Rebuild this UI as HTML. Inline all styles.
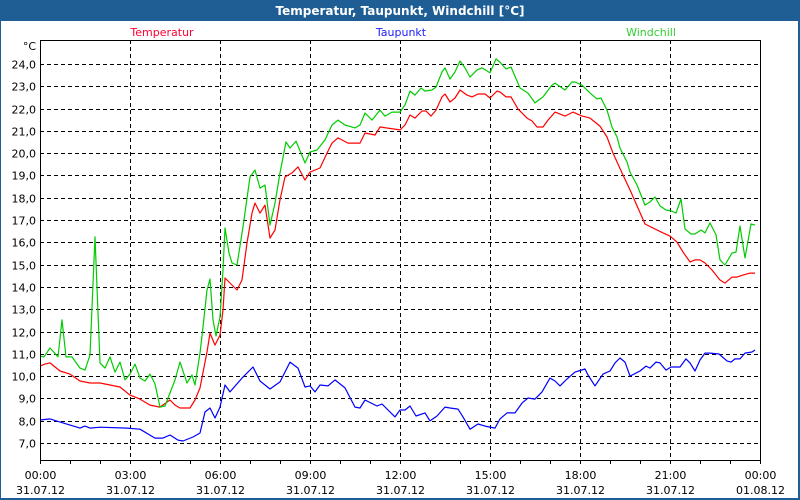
<!DOCTYPE html>
<html><head><meta charset="utf-8">
<style>
html,body{margin:0;padding:0;background:#fff;}
body{width:800px;height:500px;overflow:hidden;font-family:"DejaVu Sans","Liberation Sans",sans-serif;}
</style></head>
<body>
<svg id="chart" width="800" height="500" viewBox="0 0 800 500" xmlns="http://www.w3.org/2000/svg" style="display:block">
<rect x="0" y="0" width="800" height="500" fill="#1e5e95"/>
<rect x="1" y="21" width="797" height="477" fill="#fff"/>
<text x="400" y="15" text-anchor="middle" fill="#fff" font-size="12" font-weight="bold">Temperatur, Taupunkt, Windchill [°C]</text>
<text x="162" y="36" text-anchor="middle" fill="#ff0033" font-size="11">Temperatur</text>
<text x="401" y="36" text-anchor="middle" fill="#2020ff" font-size="11">Taupunkt</text>
<text x="651" y="36" text-anchor="middle" fill="#33cc33" font-size="11">Windchill</text>
<text x="36" y="50" text-anchor="end" fill="#000" font-size="11">°C</text>
<g id="grid"></g>
<g id="axes"></g>
<g id="series"></g>
<rect x="40.5" y="40.5" width="720" height="420" fill="none" stroke="#000" stroke-width="1"/>
</svg>
<script>
const yTicks = [7,8,9,10,11,12,13,14,15,16,17,18,19,20,21,22,23,24];
const xTickHours = [0,3,6,9,12,15,18,21,24];
const xTimeLabels = ["00:00","03:00","06:00","09:00","12:00","15:00","18:00","21:00","00:00"];
const xDateLabels = ["31.07.12","31.07.12","31.07.12","31.07.12","31.07.12","31.07.12","31.07.12","31.07.12","01.08.12"];

const tempMin = [0,10,20,40,60,80,100,120,140,160,180,200,220,240,260,270,280,300,310,320,334,340,350,360,366,370,394,404,414,424,430,440,450,460,470,480,490,504,516,530,540,560,574,584,596,616,640,650,670,680,720,730,740,750,764,772,782,792,804,810,820,830,840,854,864,876,890,900,914,920,932,942,956,974,984,994,1006,1016,1030,1050,1066,1084,1100,1120,1134,1146,1164,1180,1196,1210,1226,1246,1260,1274,1286,1300,1310,1320,1330,1344,1360,1370,1384,1394,1406,1420,1430];
const tempVal = [10.45,10.54,10.59,10.23,10.09,9.78,9.69,9.69,9.6,9.51,9.15,8.97,8.7,8.61,8.93,8.7,8.57,8.57,8.93,9.47,11.08,11.93,11.39,11.84,12.96,14.4,13.86,14.31,15.97,17.31,17.76,17.31,17.67,16.19,16.55,17.9,18.93,19.11,19.38,18.79,19.15,19.33,20.0,20.45,20.68,20.45,20.45,20.9,20.81,21.17,21.04,21.26,21.71,21.57,21.89,21.89,21.66,21.93,22.52,22.65,22.29,22.47,22.83,22.6,22.52,22.65,22.65,22.47,22.78,22.74,22.52,22.52,21.98,21.57,21.44,21.17,21.17,21.48,21.84,21.66,21.84,21.66,21.57,21.21,20.72,20.0,19.11,18.35,17.54,16.82,16.64,16.42,16.28,16.01,15.56,15.12,15.21,15.21,15.07,14.76,14.31,14.17,14.44,14.44,14.53,14.62,14.62];

const dewMin = [0,20,46,80,90,100,120,174,200,230,246,260,276,286,306,320,330,340,350,360,370,380,404,426,440,460,480,500,516,530,540,550,560,576,590,610,630,640,650,674,684,710,720,730,740,752,770,780,794,810,820,836,846,860,876,890,910,920,934,950,964,976,990,1004,1020,1030,1040,1054,1070,1090,1096,1110,1126,1140,1150,1160,1170,1180,1200,1212,1220,1232,1240,1252,1262,1280,1292,1300,1310,1320,1330,1340,1358,1374,1382,1390,1400,1410,1424,1430];
const dewVal = [8.03,8.08,7.9,7.67,7.76,7.67,7.71,7.67,7.62,7.22,7.22,7.36,7.13,7.09,7.27,7.45,8.39,8.57,8.12,8.61,9.6,9.29,9.91,10.41,9.78,9.42,9.74,10.63,10.36,9.51,9.56,9.29,9.6,9.56,9.83,9.47,8.61,8.57,8.93,8.66,8.75,8.17,8.48,8.48,8.66,8.21,8.35,7.99,8.21,8.61,8.57,8.52,8.17,7.62,7.85,7.76,7.67,8.08,8.35,8.35,8.79,9.02,8.97,9.29,9.91,9.78,9.56,9.87,10.18,10.32,10.05,9.56,10.09,10.23,10.59,10.81,10.63,10.0,10.23,10.45,10.36,10.63,10.59,10.27,10.41,10.41,10.77,10.59,10.23,10.72,11.03,11.03,10.99,10.68,10.63,10.77,10.77,11.03,11.08,11.17];

const chillMin = [0,8,20,36,44,52,64,80,90,100,110,120,130,140,150,160,170,180,190,200,210,220,230,240,250,270,280,294,304,310,320,326,334,340,346,352,360,366,370,378,384,394,406,420,430,440,450,460,470,480,492,500,512,530,540,554,570,584,596,610,630,640,650,664,680,690,704,720,730,740,750,762,770,784,792,804,810,820,830,840,850,860,874,884,900,912,920,932,942,960,976,990,1006,1024,1030,1050,1064,1070,1084,1100,1114,1122,1134,1144,1154,1160,1174,1180,1194,1210,1220,1230,1240,1252,1264,1272,1282,1290,1302,1310,1322,1330,1340,1352,1360,1370,1384,1392,1400,1410,1422,1430];
const chillVal = [10.9,10.86,11.26,10.86,12.52,10.86,10.86,10.36,10.27,10.95,16.24,10.59,10.36,10.86,10.18,10.63,9.83,10.09,10.54,9.91,9.78,10.09,9.65,8.61,8.66,9.83,10.63,9.69,10.05,9.6,11.03,12.2,13.86,14.35,12.52,11.8,12.65,14.76,16.64,15.52,15.07,14.98,16.69,18.93,19.24,18.43,18.57,16.77,17.76,19.11,20.5,20.23,20.54,19.56,20.05,20.14,20.59,21.26,21.48,21.26,21.13,21.26,21.8,21.48,21.93,21.66,21.84,21.84,22.16,22.78,22.6,22.92,22.78,22.83,22.96,23.64,23.82,23.32,23.64,24.13,23.82,23.41,23.73,23.82,23.6,24.22,24.08,23.77,23.86,22.92,22.69,22.25,22.52,23.05,23.14,22.83,23.19,23.19,23.05,22.69,22.43,22.47,21.93,21.17,20.72,20.23,19.6,19.15,18.57,17.67,17.81,18.03,17.63,17.45,17.4,17.31,17.94,16.6,16.37,16.37,16.55,16.42,16.87,16.33,15.21,14.98,15.52,15.56,16.73,15.3,16.82,16.77];

const NS = "http://www.w3.org/2000/svg";
const X0 = 40, X1 = 760, YTOP = 40, YBOT = 460;
const Y7 = 443, PXPERDEG = 22.3;
function xScale(minutes){ return X0 + (minutes/1440)*(X1-X0); }
function yScale(v){ return Y7 - (v-7)*PXPERDEG; }
function mk(tag, attrs, parent){ const e=document.createElementNS(NS,tag); for(const k in attrs) e.setAttribute(k,attrs[k]); parent.appendChild(e); return e; }

const grid = document.getElementById('grid');
const axes = document.getElementById('axes');
const series = document.getElementById('series');

yTicks.forEach(v=>{
  const y = Math.round(yScale(v))+0.5;
  const l = mk('line',{x1:X0,x2:X1,y1:y,y2:y,stroke:'#000','stroke-dasharray':'4,3','stroke-width':1},grid);
  
  
  const t = mk('text',{x:36,y:y+4,'text-anchor':'end','font-size':11,fill:'#000'},axes);
  t.textContent = v.toFixed(1).replace('.',',');
  
  
});
for(let h=0; h<=24; h++){
  const x = Math.round(xScale(h*60))+0.5;
  const tk = mk('line',{x1:x,x2:x,y1:YBOT,y2:YBOT+4,stroke:'#000','stroke-width':1},axes);
  
  
}
xTickHours.forEach((h,i)=>{
  const x = Math.round(xScale(h*60))+0.5;
  if(h>0 && h<24){
    const l = mk('line',{x1:x,x2:x,y1:YTOP,y2:YBOT,stroke:'#000','stroke-dasharray':'4,3','stroke-width':1},grid);
    
    
  }
  const t1 = mk('text',{x:x,y:479,'text-anchor':'middle','font-size':11,fill:'#000'},axes);
  t1.textContent = xTimeLabels[i];
  
  
  const t2 = mk('text',{x:x,y:494,'text-anchor':'middle','font-size':11,fill:'#000'},axes);
  t2.textContent = xDateLabels[i];
  
  
});

function drawLine(mins, vals, color, name){
  const pts = mins.map((m,i)=>xScale(m).toFixed(1)+','+yScale(vals[i]).toFixed(1)).join(' ');
  const p = mk('polyline',{points:pts,fill:'none',stroke:color,'stroke-width':1.2,'stroke-linejoin':'round'},series);
  
  
}
drawLine(dewMin, dewVal, '#0000ff', 'taupunkt-line');
drawLine(tempMin, tempVal, '#ff0000', 'temperatur-line');
drawLine(chillMin, chillVal, '#00cc00', 'windchill-line');
</script>
</body></html>
